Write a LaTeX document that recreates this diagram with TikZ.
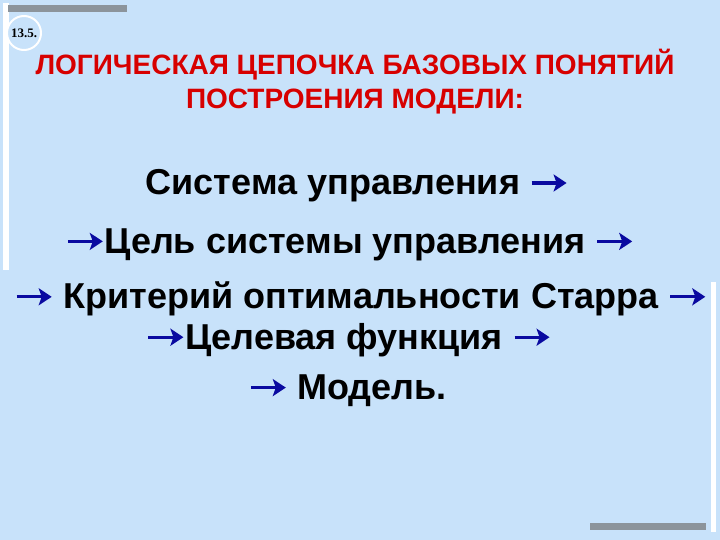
\documentclass[tikz,border=0pt]{standalone}
\usepackage{fontspec}
\setmainfont{Liberation Sans}
\newfontfamily\numfont{Liberation Serif}
\usetikzlibrary{positioning,arrows.meta}
\definecolor{slidebg}{RGB}{200,226,250}
\definecolor{titlered}{RGB}{215,0,0}
\definecolor{arrowblue}{RGB}{10,10,160}
\definecolor{bargrey}{RGB}{140,148,155}
\newcommand{\arr}{{\tikz[baseline=-12pt]\draw[arrowblue,line width=3.2pt,-{Stealth[length=13pt,width=17pt,inset=3pt]}] (0pt,0pt) -- (35pt,0pt);}}

\begin{document}
\begin{tikzpicture}[x=1pt,y=-1pt,
    title/.style={text=titlered,font=\fontsize{28}{33}\selectfont\bfseries,inner sep=0pt,text height=20pt,text depth=6pt},
    chain/.style={font=\fontsize{36}{40}\selectfont\bfseries,inner sep=0pt,text height=26pt,text depth=8pt}]
    \fill[slidebg] (0,0) rectangle (720,540);
    \useasboundingbox (0,0) rectangle (720,540);
    % slide decorations
    \fill[white] (3,3) rectangle (9,270);
    \fill[white] (711,282) rectangle (716,532);
    \fill[bargrey] (8,5) rectangle (127,12);
    \fill[bargrey] (590,523) rectangle (706,530);
    \node(num)[circle,draw=white,line width=2pt,fill=slidebg,minimum size=34pt,inner sep=0pt] at (24,33) {\numfont\fontsize{13}{13}\selectfont\bfseries 13.5.};
    \node(head)[title] at (355,68) {ЛОГИЧЕСКАЯ ЦЕПОЧКА БАЗОВЫХ ПОНЯТИЙ};
    \node(headb)[title,below=7pt of head] {ПОСТРОЕНИЯ МОДЕЛИ:};
    \node(sys)[chain] at (357,186) {Система управления \arr};
    \node(goal)[chain,below=24pt of sys,xshift=-7pt] {\arr Цель системы управления \arr};
    \node(crit)[chain,below=21pt of goal,xshift=11pt] {\arr{} Критерий оптимальности Старра \arr};
    \node(func)[chain,below=6pt of crit,xshift=-12pt] {\arr Целевая функция \arr};
    \node(model)[chain,below=16pt of func,xshift=-1pt] {\arr{} Модель.};
\end{tikzpicture}
\end{document}
